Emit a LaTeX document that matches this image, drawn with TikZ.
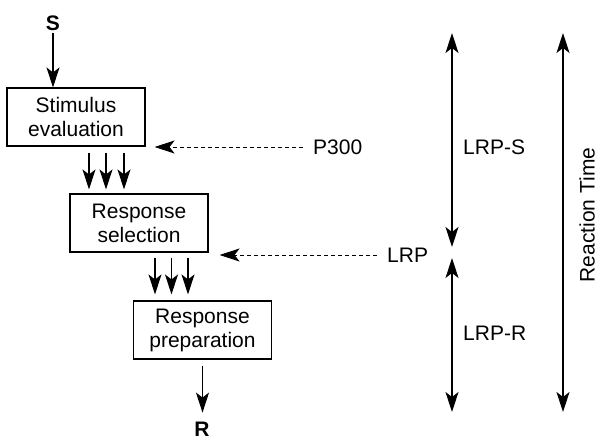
\documentclass[tikz,border=0pt]{standalone}
\usepackage{fontspec}
\setmainfont{Liberation Sans}
\usetikzlibrary{arrows.meta,calc}
\begin{document}
\begin{tikzpicture}[x=1pt,y=-1pt,
  every node/.style={font=\fontsize{21}{24}\selectfont},
  tip/.style={Stealth[length=20pt,width=13pt,inset=5pt]},
  stagebox/.style={draw,line width=1.1pt,minimum width=138pt,minimum height=58pt,align=center,inner sep=0pt},
  arr/.style={line width=1.1pt,-{Stealth[length=20pt,width=13pt,inset=5pt]}},
  darr/.style={arr,line width=0.9pt,dash pattern=on 4pt off 3pt},
  dbl/.style={line width=1.1pt,{Stealth[length=20pt,width=13pt,inset=5pt]}-{Stealth[length=20pt,width=13pt,inset=5pt]}},
  lab/.style={anchor=west,inner sep=0pt}]
\useasboundingbox (0,0) rectangle (597,439);
\node[inner sep=0pt] (S) at (53,23) {\textbf{S}};
\node[stagebox] (b1) at (76,117) {Stimulus\\evaluation};
\node[stagebox] (b2) at (139,223) {Response\\selection};
\node[stagebox] (b3) at (202.5,330) {Response\\preparation};
\node[inner sep=0pt] (R) at (202,429) {\textbf{R}};
\node[lab] (p300) at (313,147) {P300};
\node[lab] (lrp) at (387,255) {LRP};
\node[lab] (lrps) at (463,147) {LRP-S};
\node[lab] (lrpr) at (463,333) {LRP-R};
\node[inner sep=0pt,rotate=90] (rt) at (587,215) {Reaction Time};
\coordinate (a1) at (452,33);
\coordinate (a2) at (452,247);
\coordinate (a3) at (452,258);
\coordinate (a4) at (452,412);
\coordinate (c1) at (563,33);
\coordinate (c2) at (563,412);
% flow arrows
\draw[arr,shorten <=2pt] (S.south) -- (S.south |- b1.north);
\foreach \dx in {13,30,48}
  \draw[arr,shorten <=6pt,shorten >=4pt] ([xshift=\dx pt]b1.south) -- ([xshift=\dx pt]b1.south |- b2.north);
\foreach \dx in {16,32.5,49}
  \draw[arr,shorten <=5pt,shorten >=6pt] ([xshift=\dx pt]b2.south) -- ([xshift=\dx pt]b2.south |- b3.north);
\draw[arr,shorten <=6pt,shorten >=9pt] (b3.south) -- (b3.south |- R.north);
% dashed arrows
\draw[darr,shorten <=10pt,shorten >=9pt] (p300.west) -- (p300.west -| b1.east);
\draw[darr,shorten <=10pt,shorten >=11pt] (lrp.west) -- (lrp.west -| b2.east);
% interval arrows
\draw[dbl] (a1) -- (a2);
\draw[dbl] (a3) -- (a4);
\draw[dbl] (c1) -- (c2);
\end{tikzpicture}
\end{document}
